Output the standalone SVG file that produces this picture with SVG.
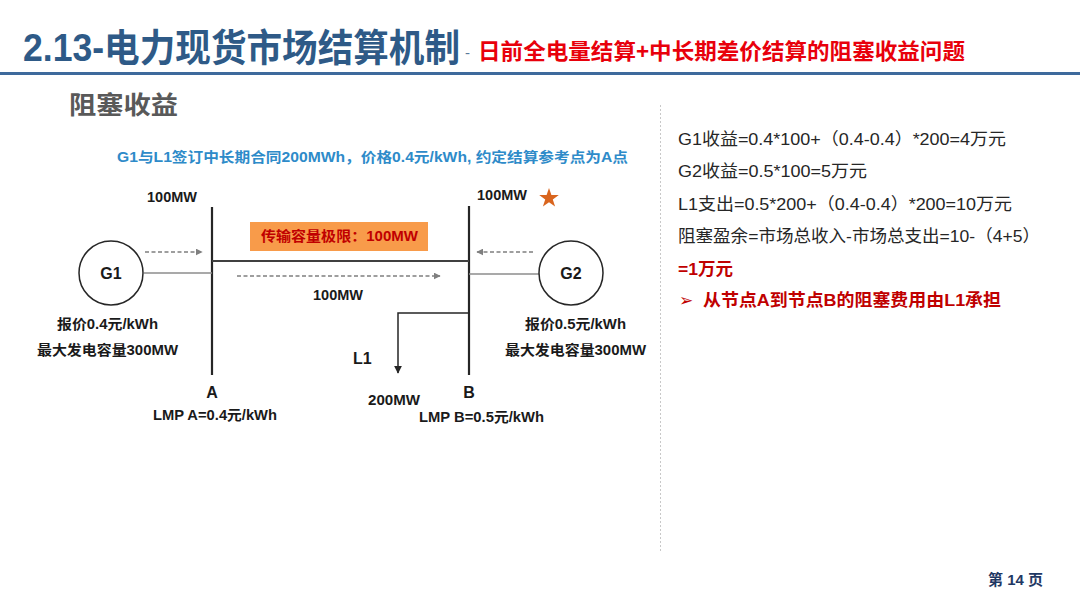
<svg xmlns="http://www.w3.org/2000/svg" width="1080" height="608" viewBox="0 0 1080 608">
<defs>
<style>
text{font-family:"Liberation Sans","Noto Sans CJK SC",sans-serif;}
.b{font-weight:bold;}
.lbl{font-size:14px;font-weight:bold;fill:#1a1a1a;}
.bus{stroke:#262626;stroke-width:2.2;fill:none;}
.ln{stroke:#8c8c8c;stroke-width:1.5;fill:none;}
.dash{stroke:#7f7f7f;stroke-width:1.3;stroke-dasharray:4 2.5;fill:none;}
.gen{fill:#fff;stroke:#262626;stroke-width:1.5;}
.rt{font-size:17px;fill:#262626;}
</style>
<marker id="ah" viewBox="0 0 10 10" refX="9" refY="5" markerWidth="7" markerHeight="7" orient="auto" markerUnits="userSpaceOnUse">
<path d="M0,0 L10,5 L0,10 z" fill="#7f7f7f"/>
</marker>
<marker id="ahs" viewBox="0 0 10 10" refX="9" refY="5" markerWidth="8" markerHeight="8" orient="auto" markerUnits="userSpaceOnUse">
<path d="M0,0 L10,5 L0,10 z" fill="#262626"/>
</marker>
</defs>
<rect width="1080" height="608" fill="#ffffff"/>

<g id="header">
<text x="23" y="61" class="b" font-size="38" fill="#2E5A87" textLength="437" lengthAdjust="spacingAndGlyphs">2.13-电力现货市场结算机制</text>
<text x="465" y="58" font-size="15" fill="#5A7A9A">-</text>
<text x="478" y="59" class="b" font-size="22" fill="#E8000B" textLength="487" lengthAdjust="spacingAndGlyphs">日前全电量结算+中长期差价结算的阻塞收益问题</text>
<line x1="0" y1="73.5" x2="1080" y2="73.5" stroke="#3E6A9C" stroke-width="3"/>
<text x="69" y="114" class="b" font-size="25" fill="#595959" textLength="109" lengthAdjust="spacingAndGlyphs">阻塞收益</text>
</g>

<line id="separator" x1="660.5" y1="105" x2="660.5" y2="552" stroke="#c8c8c8" stroke-width="1" stroke-dasharray="2 2"/>

<text id="contract" x="117" y="162" class="b" font-size="14" fill="#2E8BC9" textLength="511" lengthAdjust="spacingAndGlyphs">G1与L1签订中长期合同200MWh，价格0.4元/kWh, 约定结算参考点为A点</text>

<g id="connectors">
<line class="bus" x1="212" y1="207" x2="212" y2="375"/>
<line class="bus" x1="469" y1="206" x2="469" y2="375"/>
<line x1="212" y1="261" x2="469" y2="261" stroke="#404040" stroke-width="2"/>
<line class="ln" x1="144" y1="273" x2="212" y2="273"/>
<line class="ln" x1="469" y1="274" x2="539" y2="274"/>
<line class="dash" x1="145" y1="252" x2="202" y2="252" marker-end="url(#ah)"/>
<line class="dash" x1="533" y1="252" x2="477" y2="252" marker-end="url(#ah)"/>
<line class="dash" x1="237" y1="276" x2="440" y2="276" marker-end="url(#ah)"/>
<polyline points="469,313 398,313 398,373" stroke="#262626" stroke-width="1.5" fill="none" marker-end="url(#ahs)"/>
</g>

<g id="node-G1">
<circle class="gen" cx="111" cy="273" r="32"/>
<text x="111" y="279" text-anchor="middle" class="b" font-size="16" fill="#1a1a1a">G1</text>
<text x="57" y="329" class="lbl" textLength="101" lengthAdjust="spacingAndGlyphs">报价0.4元/kWh</text>
<text x="37" y="355" class="lbl" textLength="141" lengthAdjust="spacingAndGlyphs">最大发电容量300MW</text>
</g>

<g id="node-G2">
<circle class="gen" cx="571" cy="273" r="32"/>
<text x="571" y="279" text-anchor="middle" class="b" font-size="16" fill="#1a1a1a">G2</text>
<text x="525" y="329" class="lbl" textLength="101" lengthAdjust="spacingAndGlyphs">报价0.5元/kWh</text>
<text x="505" y="355" class="lbl" textLength="141" lengthAdjust="spacingAndGlyphs">最大发电容量300MW</text>
</g>

<g id="node-A">
<text x="147" y="202" class="lbl" textLength="50" lengthAdjust="spacingAndGlyphs">100MW</text>
<text x="212" y="398" text-anchor="middle" class="b" font-size="16" fill="#1a1a1a">A</text>
<text x="153" y="420" class="lbl" textLength="124" lengthAdjust="spacingAndGlyphs">LMP A=0.4元/kWh</text>
</g>

<g id="node-B">
<text x="477" y="200" class="lbl" textLength="50" lengthAdjust="spacingAndGlyphs">100MW</text>
<polygon points="549,188 551.4,195.1 558.8,195.1 552.8,199.5 555.1,206.6 549,202.2 542.9,206.6 545.2,199.5 539.2,195.1 546.6,195.1" fill="#D9651E"/>
<text x="469" y="398" text-anchor="middle" class="b" font-size="16" fill="#1a1a1a">B</text>
<text x="419" y="422" class="lbl" textLength="125" lengthAdjust="spacingAndGlyphs">LMP B=0.5元/kWh</text>
</g>

<g id="node-limit">
<rect x="250" y="222" width="178" height="29" fill="#F89B4A"/>
<text x="261" y="241" class="b" font-size="14" fill="#C00000" textLength="157" lengthAdjust="spacingAndGlyphs">传输容量极限：100MW</text>
<text x="313" y="300" class="lbl" textLength="50" lengthAdjust="spacingAndGlyphs">100MW</text>
</g>

<g id="node-L1">
<text x="353" y="364" class="b" font-size="16" fill="#1a1a1a">L1</text>
<text x="368" y="405" class="lbl" textLength="52" lengthAdjust="spacingAndGlyphs">200MW</text>
</g>

<g id="calc">
<text x="678" y="145" class="rt" textLength="328" lengthAdjust="spacingAndGlyphs">G1收益=0.4*100+（0.4-0.4）*200=4万元</text>
<text x="678" y="177" class="rt" textLength="189" lengthAdjust="spacingAndGlyphs">G2收益=0.5*100=5万元</text>
<text x="678" y="210" class="rt" textLength="334" lengthAdjust="spacingAndGlyphs">L1支出=0.5*200+（0.4-0.4）*200=10万元</text>
<text x="678" y="242" class="rt" textLength="362" lengthAdjust="spacingAndGlyphs">阻塞盈余=市场总收入-市场总支出=10-（4+5）</text>
<text x="678" y="275" class="b" font-size="17" fill="#C00000" textLength="55" lengthAdjust="spacingAndGlyphs">=1万元</text>
<text x="679" y="306" font-size="17" fill="#C00000" font-family="DejaVu Sans,sans-serif">➢</text>
<text x="703" y="306" class="b" font-size="17" fill="#C00000" textLength="298" lengthAdjust="spacingAndGlyphs">从节点A到节点B的阻塞费用由L1承担</text>
</g>

<text id="page" x="988" y="585" class="b" font-size="15" fill="#1F3864">第 14 页</text>
</svg>
